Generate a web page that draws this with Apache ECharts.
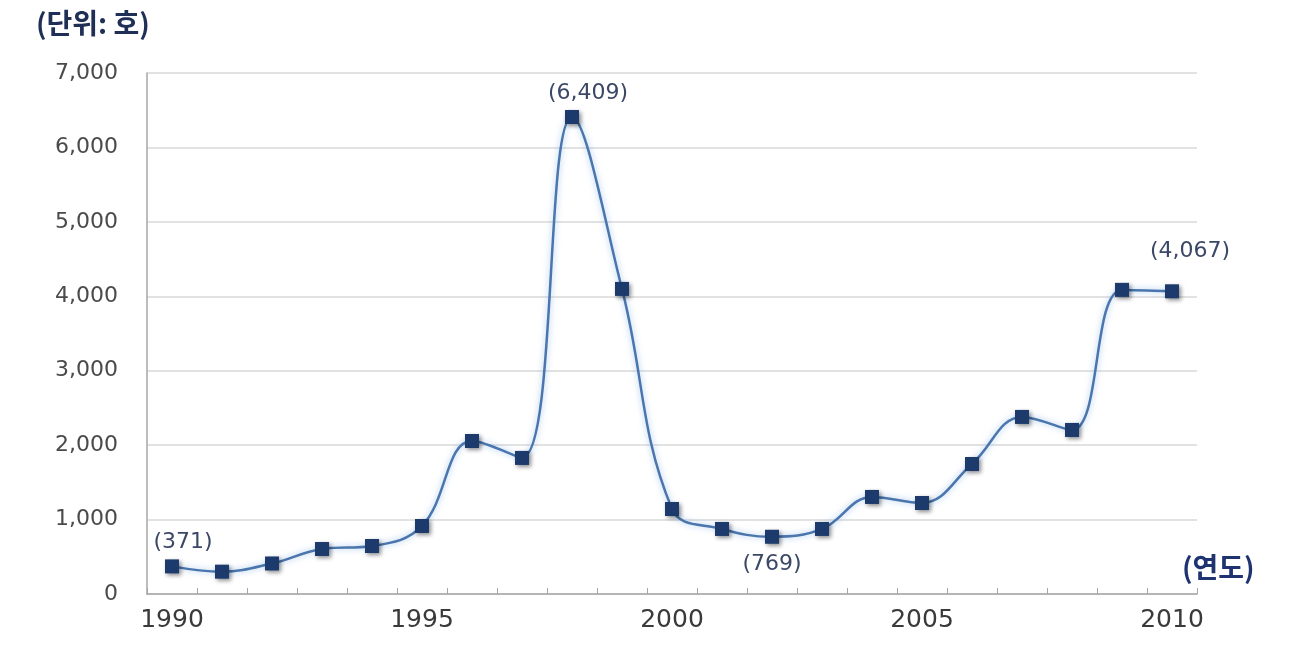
<!DOCTYPE html>
<html><head><meta charset="utf-8">
<script src="https://cdn.jsdelivr.net/npm/echarts@6/dist/echarts.min.js"></script>
<style>html,body{margin:0;padding:0;background:#fff}#c{width:1316px;height:672px}</style>
</head><body><div id="c"></div>
<script>
const years = ['1990','1991','1992','1993','1994','1995','1996','1997','1998','1999','2000','2001','2002','2003','2004','2005','2006','2007','2008','2009','2010'];
const values = [371,300,410,605,645,914,2056,1828,6409,4099,1142,874,769,874,1304,1223,1747,2379,2204,4086,4067];
const yTicks = [0,1000,2000,3000,4000,5000,6000,7000];
const labeledYears = ['1990','1998','2002','2010'];

const fmt = v => v.toLocaleString('en-US');
const labelCfg = {
  '1990': {position:'top', offset:[11,-1]},
  '1998': {position:'top', offset:[16,-1]},
  '2002': {position:'bottom', offset:[0,5]},
  '2010': {position:'top', offset:[18,-17]}
};
const data = values.map((v,i)=>{
  const y = years[i];
  if (labeledYears.includes(y)) {
    return {value:v, label:Object.assign({show:true, formatter:'('+fmt(v)+')', fontSize:22, color:'#3b4866', fontFamily:'DejaVu Sans'}, labelCfg[y])};
  }
  return v;
});

const chart = echarts.init(document.getElementById('c'));
chart.setOption({
  animation:false,
  grid:{left:147, right:119, top:73, bottom:78},
  graphic:[
    {type:'text', left:36, top:9, style:{text:'(단위: 호)', fontSize:28, fontWeight:'bold', fill:'#1f2f55', fontFamily:'Noto Sans CJK KR'}},
    {type:'text', left:1182, top:553, style:{text:'(연도)', fontSize:28, fontWeight:'bold', fill:'#1f3370', fontFamily:'Noto Sans CJK KR'}}
  ],
  xAxis:{
    type:'category', data:years, boundaryGap:true,
    axisLine:{lineStyle:{color:'#a6a6a6', width:1.5}},
    axisTick:{show:true, inside:true, length:6, interval:0, lineStyle:{color:'#a6a6a6'}},
    axisLabel:{interval:4, fontSize:25, color:'#3a3a3a', margin:14, fontFamily:'DejaVu Sans'},
    splitLine:{show:false}
  },
  yAxis:{
    type:'value', min:0, max:7000, interval:1000,
    axisLine:{show:true, lineStyle:{color:'#a6a6a6', width:1.5}},
    axisTick:{show:false},
    axisLabel:{fontSize:22, color:'#4a4a4a', margin:29, fontFamily:'DejaVu Sans', formatter:v=>yTicks.includes(v)?fmt(v):''},
    splitLine:{lineStyle:{color:'#d9d9d9', width:1.5}}
  },
  series:[{
    type:'line', data:data, smooth:0.4,
    symbol:'rect', symbolSize:14,
    lineStyle:{color:'#4a76ad', width:2.5, shadowColor:'rgba(120,170,230,0.7)', shadowBlur:6},
    itemStyle:{color:'#1c3a6b', shadowColor:'rgba(0,0,0,0.45)', shadowBlur:4, shadowOffsetX:2, shadowOffsetY:2},
    emphasis:{disabled:true}
  }]
});
</script></body></html>
